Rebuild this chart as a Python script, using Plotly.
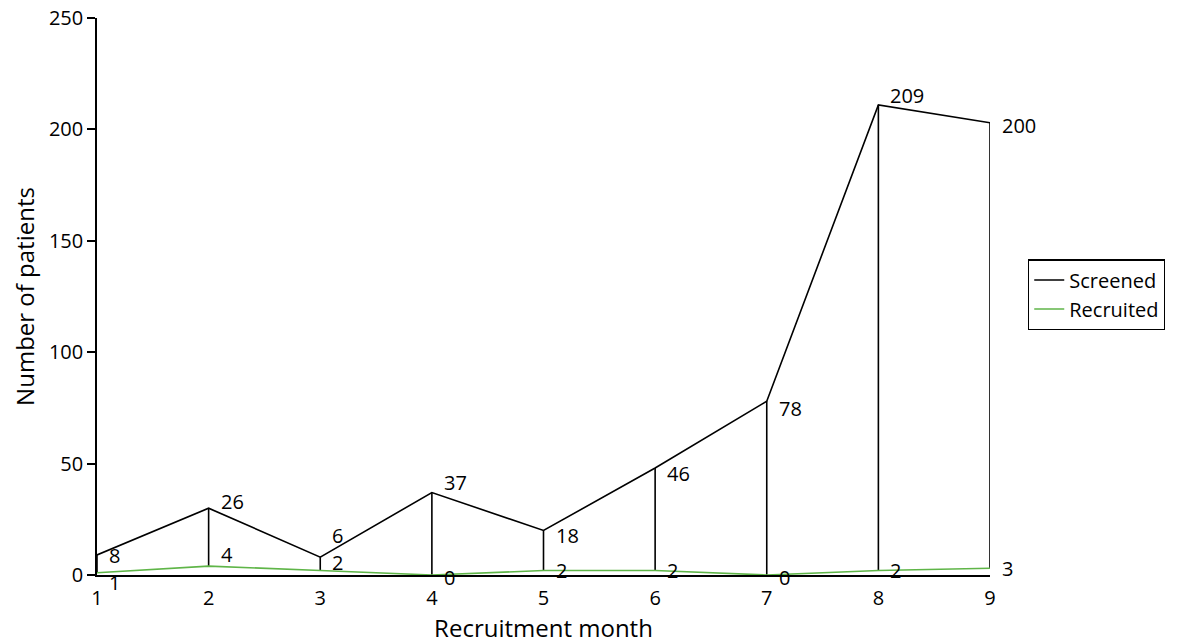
import plotly.graph_objects as go

months = [1, 2, 3, 4, 5, 6, 7, 8, 9]
screened = [8, 26, 6, 37, 18, 46, 78, 209, 200]
recruited = [1, 4, 2, 0, 2, 2, 0, 2, 3]

# label offsets (px, positive = downward) — styling only
screen_dy = [1, -7, -22, -10, 5, 5, 7, -9, 3]
recruit_dy = [10, -12, -8, 2, 0, 0, 2, 0, 0]

total = [s + r for s, r in zip(screened, recruited)]

green = "#5fb548"
font = "Open Sans, Noto Sans, sans-serif"
fs = 20

fig = go.Figure()
fig.add_trace(go.Scatter(
    x=months, y=total, name="Screened", mode="lines",
    line=dict(color="black", width=1.6), cliponaxis=False,
    error_y=dict(type="data", symmetric=False, array=[0] * len(months),
                 arrayminus=screened, color="black", thickness=1.6, width=0),
))
fig.add_trace(go.Scatter(
    x=months, y=recruited, name="Recruited", mode="lines",
    line=dict(color=green, width=1.6), cliponaxis=False,
))

for xv, yv, lab, dy in zip(months, total, screened, screen_dy):
    fig.add_annotation(x=xv, y=yv, text=str(lab), showarrow=False, xanchor="left",
                       yanchor="middle", xshift=11, yshift=-dy, borderpad=0,
                       font=dict(size=fs, color="black"))
for xv, yv, lab, dy in zip(months, recruited, recruited, recruit_dy):
    fig.add_annotation(x=xv, y=yv, text=str(lab), showarrow=False, xanchor="left",
                       yanchor="middle", xshift=11, yshift=-dy, borderpad=0,
                       font=dict(size=fs, color="black"))

fig.update_layout(
    width=1177, height=636,
    margin=dict(l=89, r=195, t=10, b=69),
    paper_bgcolor="white", plot_bgcolor="white",
    font=dict(family=font, size=fs, color="black"),
    showlegend=True,
    legend=dict(x=1.0426, y=0.503, xanchor="left", yanchor="middle",
                bordercolor="black", borderwidth=1.2, font=dict(size=fs),
                itemwidth=30, tracegroupgap=0),
    xaxis=dict(range=[1, 9], tickvals=months, ticks="", showgrid=False,
               zeroline=False, showline=True, linecolor="black", linewidth=1.6,
               ticklabelstandoff=4, automargin=False, ticklabeloverflow="allow",
               title=dict(text="Recruitment month", standoff=8)),
    yaxis=dict(range=[0, 250], tickvals=[0, 50, 100, 150, 200, 250], ticks="outside",
               ticklen=8, tickwidth=1.6, tickcolor="black", showgrid=False,
               zeroline=False, showline=True, linecolor="black", linewidth=1.6,
               automargin=False, ticklabeloverflow="allow",
               title=dict(text="Number of patients", standoff=26)),
)

fig.write_html("out.html")
